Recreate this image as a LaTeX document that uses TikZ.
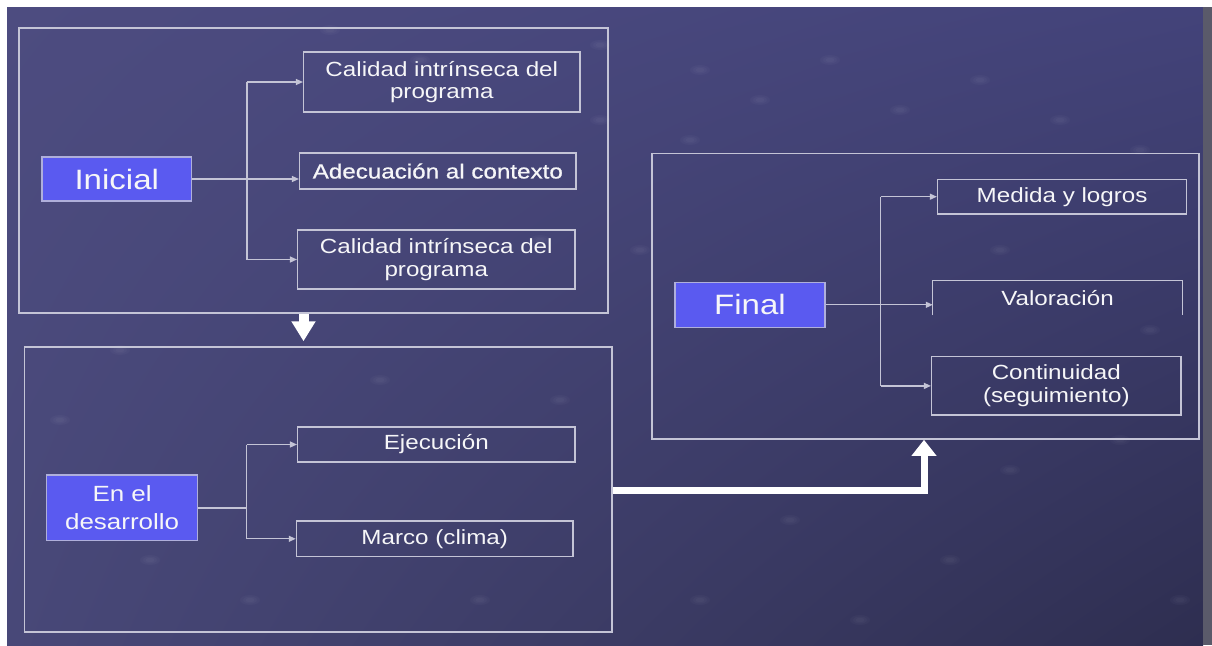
\documentclass[tikz,border=0pt]{standalone}
\usepackage{fontspec}
\setmainfont[FakeStretch=1.18]{Liberation Sans}
\usetikzlibrary{arrows.meta,shadings}
\definecolor{bgTL}{HTML}{4D4C80}
\definecolor{bgTR}{HTML}{43437A}
\definecolor{bgBL}{HTML}{484878}
\definecolor{bgBR}{HTML}{2E2E50}
\definecolor{edgegray}{HTML}{5A5A6A}
\definecolor{lineC}{HTML}{C4C4D6}
\definecolor{nodeblue}{HTML}{5A5AF0}
\definecolor{txt}{HTML}{F6F6F8}
\tikzset{
  panel/.style={draw=lineC, line width=1.5pt, inner sep=0pt},
  itembox/.style={draw=lineC, line width=1.3pt, inner sep=0pt, text=txt, align=center,
    font=\fontsize{20.5pt}{22.5pt}\selectfont},
  openbox/.style={inner sep=0pt, text=txt, align=center,
    font=\fontsize{20.5pt}{22.5pt}\selectfont},
  stage/.style={draw=lineC!80!nodeblue, line width=1.3pt, fill=nodeblue, inner sep=0pt,
    text=txt, align=center},
  conn/.style={draw=lineC, line width=1.3pt},
  arr/.style={conn, -{Triangle[length=7pt,width=6pt]}},
  bigarrow/.style={draw=white, line width=7pt, line join=miter,
    -{Triangle[length=16pt,width=24pt]}},
  downarrow/.style={draw=white, line width=10pt, -{Triangle[length=20pt,width=23pt]}}
}
\begin{document}
\begin{tikzpicture}[x=1pt,y=-1pt]
\useasboundingbox (0,0) rectangle (1212,645);
\fill[white] (0,0) rectangle (1212,645);
\shade[upper left=bgTL, upper right=bgTR, lower left=bgBL, lower right=bgBR]
  (7,7) rectangle (1203,645);
\fill[edgegray] (1203,7) rectangle (1212,645);
% faint texture spots
\foreach \px/\py in {330/30,420/60,600/45,700/70,760/100,830/60,900/110,980/80,1060/120,1140/150,
  690/140,600/120,540/240,640/250,1000/250,1150/330,1120/440,1010/470,790/520,700/600,
  950/560,1180/600,860/620,120/350,60/420,250/600,150/560,480/600,560/400,380/380} {
  \foreach \r in {1,0.7,0.45} {
    \fill[white, opacity=0.025] (\px,\py) ellipse ({10*\r pt} and {5*\r pt});
  }
}
% panels
\node[panel, minimum width=589pt, minimum height=285pt] (b1) at (313.5,170.5) {};
\node[panel, minimum width=587.5pt, minimum height=285pt] (b2) at (318.25,489.5) {};
\node[panel, minimum width=547pt, minimum height=285.7pt] (b3) at (925.5,296.2) {};
% stage nodes
\node[stage, minimum width=149.5pt, minimum height=44pt, font=\fontsize{28pt}{30pt}\selectfont]
  (ini) at (116.75,179) {Inicial};
\node[stage, minimum width=151pt, minimum height=65.7pt, font=\fontsize{22pt}{27.7pt}\selectfont]
  (dev) at (122.1,507.9) {En el\\desarrollo};
\node[stage, minimum width=150pt, minimum height=45pt, font=\fontsize{28pt}{30pt}\selectfont]
  (fin) at (750,304.8) {Final};
% items
\node[itembox, minimum width=276.4pt, minimum height=60pt] (c1) at (441.8,82)
  {Calidad intrínseca del\\programa};
\node[itembox, minimum width=276.4pt, minimum height=36pt,
  font=\fontsize{20.5pt}{22.5pt}\selectfont\addfontfeature{FakeBold=0.8}]
  (ade) at (437.8,171) {Adecuación al contexto};
\node[itembox, minimum width=277.4pt, minimum height=59pt] (c2) at (436.3,259.5)
  {Calidad intrínseca del\\programa};
\node[itembox, minimum width=277.4pt, minimum height=35pt] (eje) at (436.3,444.5) {Ejecución};
\node[itembox, minimum width=276.6pt, minimum height=35.7pt] (mar) at (434.7,538.8) {Marco (clima)};
\node[itembox, minimum width=249.2pt, minimum height=34.7pt] (med) at (1062.1,196.7) {Medida y logros};
\node[openbox, minimum width=249pt, minimum height=34.3pt] (val) at (1057.5,297.9) {Valoración};
\draw[conn] (val.south west) -- (val.north west) -- (val.north east) -- (val.south east);
\node[itembox, minimum width=249.4pt, minimum height=58.3pt] (con) at (1056.3,385.9)
  {Continuidad\\(seguimiento)};
% trunks
\coordinate (t1) at (247,0);
\coordinate (t2) at (246.6,0);
\coordinate (t3) at (880.5,0);
% Inicial tree
\draw[conn, line width=2.2pt] (ini.east) -- (ini.east -| t1);
\draw[arr] (ini.east -| t1) -- (ini.east -| ade.west);
\draw[conn] (t1 |- c1.west) -- (t1 |- c2.west);
\draw[arr] (t1 |- c1.west) -- (c1.west);
\draw[arr] (t1 |- c2.west) -- (c2.west);
% Desarrollo tree
\draw[conn] (dev.east) -- (dev.east -| t2);
\draw[conn] (t2 |- eje.west) -- (t2 |- mar.west);
\draw[arr] (t2 |- eje.west) -- (eje.west);
\draw[arr] (t2 |- mar.west) -- (mar.west);
% Final tree
\draw[conn] (fin.east) -- (fin.east -| t3);
\draw[arr] (fin.east -| t3) -- (fin.east -| val.west);
\draw[conn] (t3 |- med.west) -- (t3 |- con.west);
\draw[arr] (t3 |- med.west) -- (med.west);
\draw[arr] (t3 |- con.west) -- (con.west);
% flow arrows between panels
\coordinate (da) at (303.5,0);
\draw[downarrow, shorten >=5pt] (b1.south -| da) -- (b2.north -| da);
\coordinate (m) at (924,490);
\draw[bigarrow] (b2.east |- m) -- (m) -- (m |- b3.south);
\end{tikzpicture}
\end{document}
